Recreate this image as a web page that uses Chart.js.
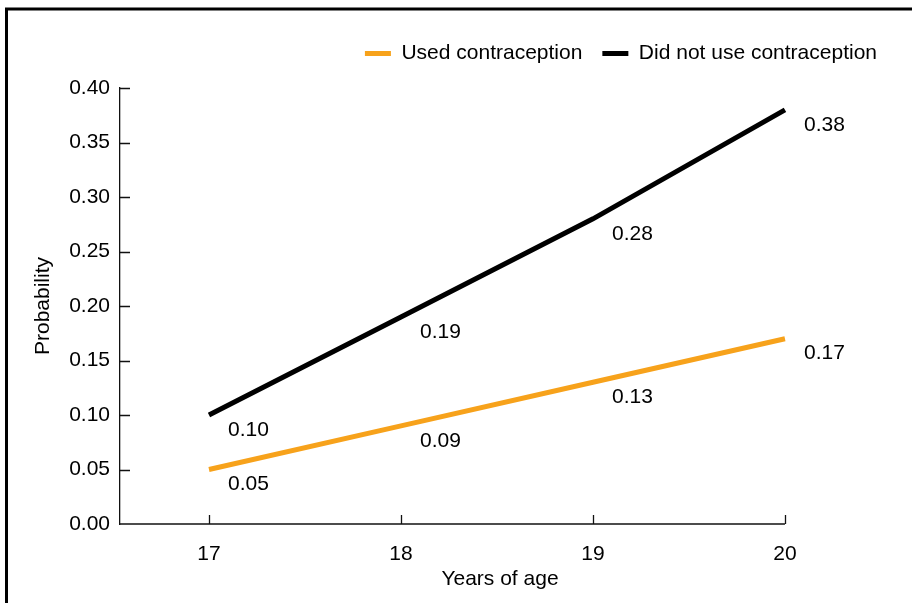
<!DOCTYPE html>
<html>
<head>
<meta charset="utf-8">
<script src="https://cdn.jsdelivr.net/npm/chart.js@4"></script>
<style>
  html, body { margin: 0; padding: 0; background: #fff; }
  #wrap { position: relative; width: 912px; height: 603px; }
</style>
</head>
<body>
<div id="wrap"><canvas id="c" width="912" height="603"></canvas></div>
<script>
const ages = [17, 18, 19, 20];
const usedContraception = [0.05, 0.09, 0.13, 0.17];
const didNotUse = [0.10, 0.19, 0.28, 0.38];
const yTickValues = [0, 0.05, 0.10, 0.15, 0.20, 0.25, 0.30, 0.35, 0.40];
const seriesNames = ['Used contraception', 'Did not use contraception'];
const xTitle = 'Years of age';
const yTitle = 'Probability';

const FONT = "'Liberation Sans', Arial, sans-serif";
const FS = 21;
const ORANGE = '#f7a21b';
const BLACK = '#000000';

const toPoints = arr => ages.map((a, i) => ({ x: a, y: arr[i] }));

const decorPlugin = {
  id: 'decor',
  beforeDraw(chart) {
    const ctx = chart.ctx;
    ctx.save();
    ctx.strokeStyle = '#000';
    ctx.lineWidth = 3;
    ctx.beginPath();
    ctx.moveTo(6.5, 603);
    ctx.lineTo(6.5, 9);
    ctx.lineTo(912, 9);
    ctx.stroke();
    ctx.restore();
  },
  afterDraw(chart) {
    const ctx = chart.ctx;
    const { x, y } = chart.scales;
    const area = chart.chartArea;
    ctx.save();
    ctx.strokeStyle = '#111';
    ctx.lineWidth = 1.3;
    ctx.beginPath();
    ctx.moveTo(area.left, area.bottom);
    ctx.lineTo(x.getPixelForValue(ages[ages.length - 1]), area.bottom);
    ctx.stroke();
    ctx.beginPath();
    ages.forEach(v => {
      const px = Math.round(x.getPixelForValue(v)) + 0.5;
      ctx.moveTo(px, area.bottom);
      ctx.lineTo(px, area.bottom - 9);
    });
    yTickValues.forEach(v => {
      if (v === 0) return;
      const py = Math.round(y.getPixelForValue(v)) + 0.5;
      ctx.moveTo(area.left, py);
      ctx.lineTo(area.left + 10, py);
    });
    ctx.stroke();
    ctx.fillStyle = '#000';
    ctx.font = FS + 'px ' + FONT;
    ctx.textAlign = 'left';
    ctx.textBaseline = 'middle';
    chart.data.datasets.forEach((ds, di) => {
      const meta = chart.getDatasetMeta(di);
      meta.data.forEach((pt, i) => {
        ctx.fillText(ds.data[i].y.toFixed(2), pt.x + 19, pt.y + 15);
      });
    });
    ctx.restore();
  }
};

const blankAxis = (position, axis, fitFn) => ({
  type: 'linear',
  axis,
  position,
  display: true,
  afterFit: fitFn,
  grid: { display: false, drawTicks: false },
  border: { display: false },
  ticks: { display: false },
  title: { display: false }
});

new Chart(document.getElementById('c'), {
  type: 'line',
  data: {
    datasets: [
      {
        label: seriesNames[0],
        data: toPoints(usedContraception),
        xAxisID: 'x',
        yAxisID: 'y',
        borderColor: ORANGE,
        backgroundColor: ORANGE,
        borderWidth: 5,
        pointRadius: 0,
        tension: 0
      },
      {
        label: seriesNames[1],
        data: toPoints(didNotUse),
        xAxisID: 'x',
        yAxisID: 'y',
        borderColor: BLACK,
        backgroundColor: BLACK,
        borderWidth: 5,
        pointRadius: 0,
        tension: 0
      }
    ]
  },
  options: {
    responsive: false,
    animation: false,
    layout: { padding: { top: 23, right: 15, bottom: 0, left: 0 } },
    plugins: {
      tooltip: { enabled: false },
      legend: {
        position: 'top',
        align: 'end',
        labels: {
          usePointStyle: true,
          pointStyle: 'line',
          pointStyleWidth: 26,
          boxHeight: FS,
          padding: 20,
          color: '#000',
          font: { family: FONT, size: FS }
        }
      }
    },
    scales: {
      x: {
        type: 'linear',
        axis: 'x',
        position: 'bottom',
        min: 16.5365,
        max: 20.495,
        afterBuildTicks(scale) { scale.ticks = ages.map(v => ({ value: v })); },
        afterFit(scale) { scale.height = 79; },
        grid: { display: false, drawTicks: false },
        border: { display: false },
        ticks: {
          padding: 18,
          color: '#000',
          font: { family: FONT, size: FS },
          callback: v => String(v),
          maxRotation: 0
        },
        title: {
          display: true,
          text: xTitle,
          color: '#000',
          font: { family: FONT, size: FS },
          padding: { top: 0, bottom: 11 }
        }
      },
      y: {
        type: 'linear',
        axis: 'y',
        position: 'left',
        min: 0,
        max: 0.4,
        afterBuildTicks(scale) { scale.ticks = yTickValues.map(v => ({ value: v })); },
        afterFit(scale) { scale.width = 120; },
        grid: { display: false, drawTicks: false },
        border: { display: true, color: '#111', width: 1.3 },
        ticks: {
          padding: 10,
          color: '#000',
          font: { family: FONT, size: FS },
          callback: v => Number(v).toFixed(2)
        },
        title: {
          display: true,
          text: yTitle,
          color: '#000',
          font: { family: FONT, size: FS },
          padding: { top: 31, bottom: 0 }
        }
      },
      xTop: blankAxis('top', 'x', s => { s.height = 14; }),
      yRight: blankAxis('right', 'y', s => { s.width = 17; })
    }
  },
  plugins: [decorPlugin]
});
</script>
</body>
</html>
